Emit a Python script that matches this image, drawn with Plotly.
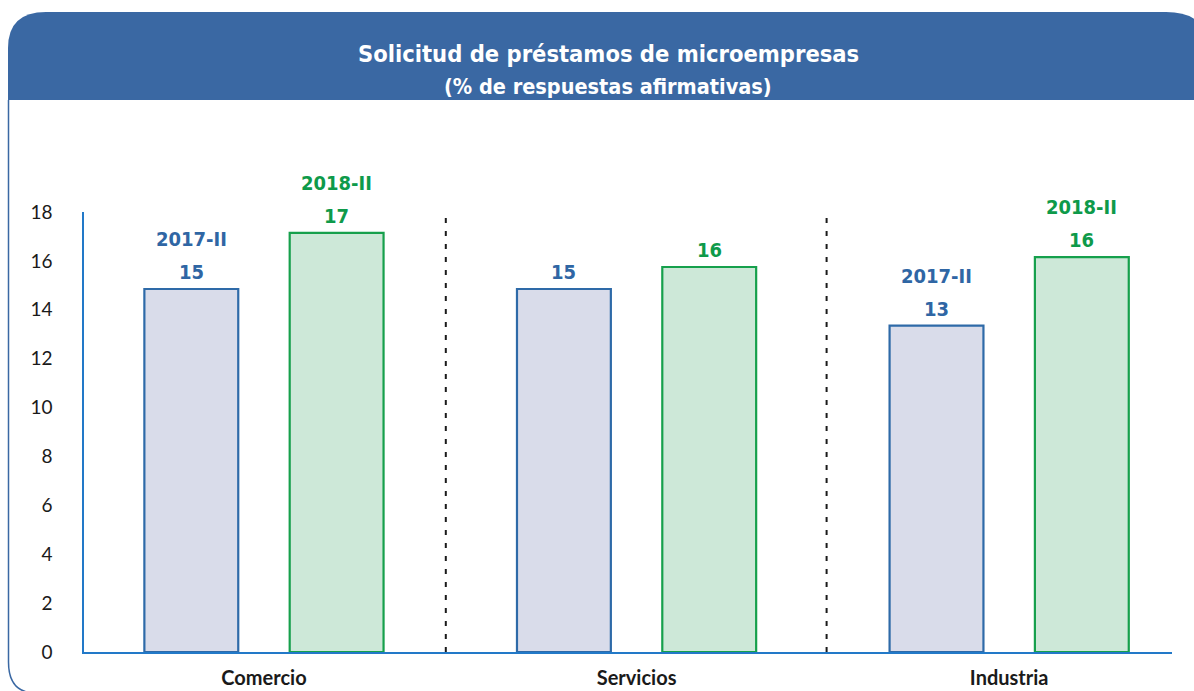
import plotly.graph_objects as go

# ---------------- data ----------------
categories = ["Comercio", "Servicios", "Industria"]
periods = ["2017-II", "2018-II"]
values_2017 = [14.85, 14.85, 13.35]
values_2018 = [17.15, 15.75, 16.15]
labels_2017 = [15, 15, 13]
labels_2018 = [17, 16, 16]
show_period = [True, False, True]
y_ticks = [0, 2, 4, 6, 8, 10, 12, 14, 16, 18]

# ---------------- style ----------------
W, H = 1194, 691
ML, MR, MT, MB = 84, 22, 212, 39
PW, PH = W - ML - MR, H - MT - MB
HEADER = "#3a68a3"
BLUE_T, BLUE_E, BLUE_F = "#2f66a4", "#2e6aa8", "#d9dcea"
GREEN_T, GREEN_E, GREEN_F = "#0e9a4a", "#16a04c", "#cde8d8"
AXIS = "#2279c8"
LABEL_FONT = "DejaVu Sans Condensed"
TICK_FONT = "Lato"

x_idx = list(range(len(categories)))
offset = 0.195


def px(x):
    return (x - ML) / PW


def py(y):
    return (H - MB - y) / PH


def path(cmds):
    out = []
    for c in cmds:
        if isinstance(c, str):
            out.append(c)
        else:
            out.append(f"{px(c[0]):.5f},{py(c[1]):.5f}")
    return " ".join(out)


fig = go.Figure()
fig.add_trace(go.Bar(
    x=x_idx, y=values_2017, name=periods[0],
    marker=dict(color=BLUE_F, line=dict(color=BLUE_E, width=2.2)),
    hoverinfo="skip",
))
fig.add_trace(go.Bar(
    x=x_idx, y=values_2018, name=periods[1],
    marker=dict(color=GREEN_F, line=dict(color=GREEN_E, width=2.2)),
    hoverinfo="skip",
))

annotations = []
for i in x_idx:
    for sign, vals, labs, col, per in [
        (-1, values_2017, labels_2017, BLUE_T, periods[0]),
        (1, values_2018, labels_2018, GREEN_T, periods[1]),
    ]:
        xx = i + sign * offset
        annotations.append(dict(
            x=xx, y=vals[i], xref="x", yref="y", text=f"<b>{labs[i]}</b>",
            showarrow=False, yanchor="bottom", yshift=3,
            font=dict(family=LABEL_FONT, size=20, color=col)))
        if show_period[i]:
            annotations.append(dict(
                x=xx, y=vals[i], xref="x", yref="y", text=f"<b>{per}</b>",
                showarrow=False, yanchor="bottom", yshift=36,
                font=dict(family=LABEL_FONT, size=20, color=col)))

# title
annotations.append(dict(
    x=px(608), y=py(38), xref="paper", yref="paper",
    text="<b>Solicitud de préstamos de microempresas</b>", showarrow=False,
    font=dict(family=LABEL_FONT, size=23.5, color="white")))
annotations.append(dict(
    x=px(608), y=py(72), xref="paper", yref="paper",
    text="<b>(% de respuestas afirmativas)</b>", showarrow=False,
    font=dict(family=LABEL_FONT, size=21.5, color="white")))

shapes = []
# header
shapes.append(dict(
    type="path", xref="paper", yref="paper",
    path=path(["M", (8, 100), "L", (8, 48), "Q", (8, 12), (46, 12),
               "L", (1166, 12), "Q", (1190, 12), (1200, 24),
               "L", (1200, 100), "Z"]),
    fillcolor=HEADER, line=dict(color=HEADER, width=0), layer="below"))
# body border
shapes.append(dict(
    type="path", xref="paper", yref="paper",
    path=path(["M", (8.5, 100), "L", (8.5, 662), "Q", (8.5, 692), (34, 693)]),
    line=dict(color=HEADER, width=1.5), layer="below"))
# separators
for sx in [0.488, 1.51]:
    shapes.append(dict(
        type="line", xref="x", yref="y", x0=sx, x1=sx, y0=0, y1=17.95,
        line=dict(color="#1a1a1a", width=2, dash="5px,8px"), layer="below"))

fig.update_layout(
    width=W, height=H,
    margin=dict(l=ML, r=MR, t=MT, b=MB, pad=0, autoexpand=False),
    paper_bgcolor="white", plot_bgcolor="white",
    barmode="group", bargap=0.22, bargroupgap=0.354,
    showlegend=False,
    annotations=annotations, shapes=shapes,
    xaxis=dict(
        range=[-0.483, 2.437], tickvals=x_idx, ticktext=[f"<b>{c}</b>" for c in categories],
        showgrid=False, zeroline=False, showline=True, linecolor=AXIS, linewidth=1.5,
        ticks="", ticklabelstandoff=7, automargin=False,
        tickfont=dict(family=TICK_FONT, size=20, color="#1a1a1a")),
    yaxis=dict(
        range=[0, 18], tickvals=y_ticks, showgrid=False, zeroline=False,
        showline=True, linecolor=AXIS, linewidth=1.5, ticks="",
        ticklabelstandoff=26, automargin=False,
        tickfont=dict(family=TICK_FONT, size=19, color="#1a1a1a")),
)

fig.write_html(
    "out.html",
    config={"displayModeBar": False},
    post_script="document.body.style.margin='0';document.body.style.padding='0';"
                "document.body.style.overflow='hidden';",
)
